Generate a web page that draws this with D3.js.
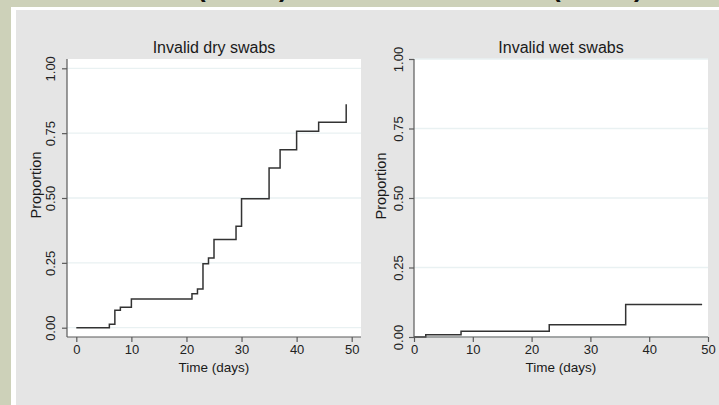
<!DOCTYPE html>
<html>
<head>
<meta charset="utf-8">
<script src="https://cdn.jsdelivr.net/npm/d3@7"></script>
<style>
body { margin: 0; background: #cdd1b9; }
svg { display: block; font-family: "Liberation Sans", Arial, Helvetica, sans-serif; }
</style>
</head>
<body>
<div id="divcont"></div>
<script>
// data (cumulative proportion of invalid swabs over time)
var dryTime = [0, 6, 7, 8, 10, 21, 22, 23, 24, 25, 29, 30, 35, 37, 40, 44, 49]
var dryProp = [0, 0.013, 0.067, 0.079, 0.111, 0.131, 0.149, 0.247, 0.269, 0.340, 0.391, 0.497, 0.616, 0.686, 0.757, 0.792, 0.861]
var wetTime = [0, 2, 8, 23, 36, 49]
var wetProp = [0, 0.008, 0.021, 0.044, 0.117, 0.117]
var xTicks = [0, 10, 20, 30, 40, 50]
var yTicks = [0, 0.25, 0.5, 0.75, 1]
var titles = ["Invalid dry swabs", "Invalid wet swabs"]

var wd = 719
var ht = 405

var svg = d3.select("#divcont")
  .append("svg")
  .attr("width", wd)
  .attr("height", ht)

// slide frame
svg.append("rect").attr("width", wd).attr("height", ht).attr("fill", "#cdd1b9")
svg.append("rect").attr("x", 11).attr("y", 7).attr("width", wd - 11).attr("height", ht - 7).attr("fill", "#ffffff")
svg.append("rect").attr("x", 16).attr("y", 10).attr("width", wd - 16).attr("height", ht - 10).attr("fill", "#e5e5e5")

// cut-off heading above the graph, only the parentheses peek out
var heads = [[197, 279], [552, 634]]
heads.forEach(function(h) {
  svg.append("text").attr("x", h[0]).attr("y", -3).text("(")
    .style("font-size", "26px").style("font-weight", "bold").attr("fill", "#111")
  svg.append("text").attr("x", h[1]).attr("y", -3).text(")")
    .style("font-size", "26px").style("font-weight", "bold").attr("fill", "#111")
})

// plot regions: left one has an inner margin, right one does not
var panels = [
  {title: titles[0], t: dryTime, p: dryProp, x0: 67, x1: 361, y0: 59, y1: 337, inset: 9.3, tickLabX: 55, axTitleX: 41, axTitleY: 185},
  {title: titles[1], t: wetTime, p: wetProp, x0: 414, x1: 708, y0: 59, y1: 337, inset: 0, tickLabX: 403, axTitleX: 386, axTitleY: 186}
]

panels.forEach(function(pn) {
  var g = svg.append("g")

  var xScale = d3.scaleLinear()
    .domain([0, 50])
    .range([pn.x0 + pn.inset, pn.x1 - pn.inset])

  var yScale = d3.scaleLinear()
    .domain([0, 1])
    .range([pn.y1 - pn.inset, pn.y0 + pn.inset])

  g.append("rect")
    .attr("x", pn.x0).attr("y", pn.y0)
    .attr("width", pn.x1 - pn.x0).attr("height", pn.y1 - pn.y0)
    .attr("fill", "#ffffff")

  // gridlines
  g.selectAll(".grid")
    .data(yTicks)
    .enter()
    .append("line")
    .attr("x1", pn.x0).attr("x2", pn.x1)
    .attr("y1", function(d) { return yScale(d) })
    .attr("y2", function(d) { return yScale(d) })
    .attr("stroke", "#e9f1f2")
    .attr("stroke-width", 1.3)

  // step line
  var pts = pn.t.map(function(d, i) { return [d, pn.p[i]] })
  var line = d3.line()
    .x(function(d) { return xScale(d[0]) })
    .y(function(d) { return yScale(d[1]) })
    .curve(d3.curveStepAfter)

  g.append("path")
    .datum(pts)
    .attr("d", line)
    .attr("fill", "none")
    .attr("stroke", "#333333")
    .attr("stroke-width", 1.5)

  // axes
  var xAxis = d3.axisBottom(xScale).tickValues(xTicks).tickSize(5).tickPadding(3)
    .tickFormat(d3.format("d"))
  var yAxis = d3.axisLeft(yScale).tickValues(yTicks).tickSize(5)
    .tickFormat(d3.format(".2f"))

  var xa = g.append("g")
    .attr("transform", "translate(0," + pn.y1 + ")")
    .call(xAxis)
  var ya = g.append("g")
    .attr("transform", "translate(" + pn.x0 + ",0)")
    .call(yAxis)

  xa.select(".domain").remove()
  ya.select(".domain").remove()

  g.append("line").attr("x1", pn.x0).attr("x2", pn.x1).attr("y1", pn.y1).attr("y2", pn.y1)
    .attr("stroke", "#5a5a5a").attr("stroke-width", 1.2)
  g.append("line").attr("x1", pn.x0).attr("x2", pn.x0).attr("y1", pn.y0).attr("y2", pn.y1)
    .attr("stroke", "#5a5a5a").attr("stroke-width", 1.2)

  xa.selectAll(".tick line").attr("stroke", "#5a5a5a").attr("stroke-width", 1.2)
  ya.selectAll(".tick line").attr("stroke", "#5a5a5a").attr("stroke-width", 1.2)

  xa.selectAll(".tick text")
    .style("font-size", "13px")
    .style("font-family", "Liberation Sans, Arial, sans-serif")
    .attr("fill", "#222")

  // vertical tick labels on y
  ya.selectAll(".tick text")
    .attr("x", null).attr("dy", null)
    .attr("text-anchor", "middle")
    .attr("transform", "translate(" + (pn.tickLabX - pn.x0) + ",0) rotate(-90)")
    .style("font-size", "13px")
    .style("font-family", "Liberation Sans, Arial, sans-serif")
    .attr("fill", "#222")

  g.append("text")
    .attr("x", (pn.x0 + pn.x1) / 2)
    .attr("y", 52.5)
    .attr("text-anchor", "middle")
    .text(pn.title)
    .style("font-size", "16px")
    .attr("fill", "#1a1a1a")

  g.append("text")
    .attr("x", (pn.x0 + pn.x1) / 2)
    .attr("y", 371.5)
    .attr("text-anchor", "middle")
    .text("Time (days)")
    .style("font-size", "13.5px")
    .attr("fill", "#1a1a1a")

  g.append("text")
    .attr("transform", "translate(" + pn.axTitleX + "," + pn.axTitleY + ") rotate(-90)")
    .attr("text-anchor", "middle")
    .text("Proportion")
    .style("font-size", "14.5px")
    .attr("fill", "#1a1a1a")
})
</script>
</body>
</html>
